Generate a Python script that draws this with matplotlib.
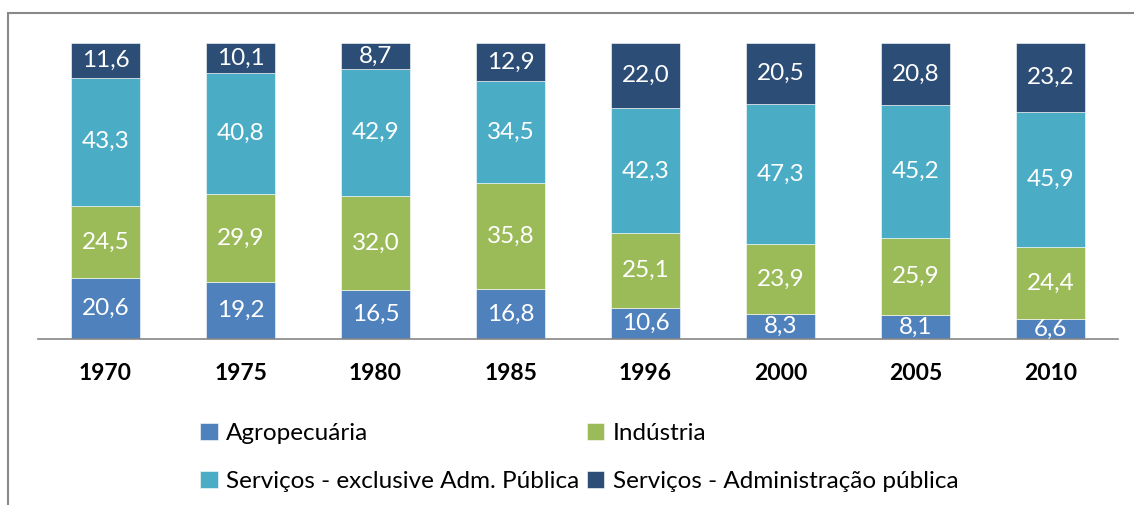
import matplotlib.pyplot as plt
from matplotlib.patches import Rectangle
import numpy as np

plt.rcParams['font.family'] = ['Lato', 'DejaVu Sans']

anos = ['1970', '1975', '1980', '1985', '1996', '2000', '2005', '2010']
agro = [20.6, 19.2, 16.5, 16.8, 10.6, 8.3, 8.1, 6.6]
industria = [24.5, 29.9, 32.0, 35.8, 25.1, 23.9, 25.9, 24.4]
serv_excl = [43.3, 40.8, 42.9, 34.5, 42.3, 47.3, 45.2, 45.9]
serv_adm = [11.6, 10.1, 8.7, 12.9, 22.0, 20.5, 20.8, 23.2]

series = [agro, industria, serv_excl, serv_adm]
nomes = ['Agropecuária', 'Indústria', 'Serviços - exclusive Adm. Pública',
         'Serviços - Administração pública']
cores = ['#4F81BD', '#9BBB59', '#4BACC6', '#2C4D75']

fig = plt.figure(figsize=(11.34, 5.05), dpi=100)
ax = fig.add_axes([38/1134, 1 - 339/505, (1118 - 38)/1134, (339 - 43)/505])

x = np.arange(len(anos))
base = np.zeros(len(anos))
barras = []
for vals, nome, cor in zip(series, nomes, cores):
    vals = np.array(vals)
    b = ax.bar(x, vals, 0.51, bottom=base, color=cor, label=nome,
               edgecolor='white', linewidth=0.4)
    barras.append(b)
    for xi, v, bo in zip(x, vals, base):
        ax.text(xi, bo + v / 2, f'{v:.1f}'.replace('.', ','), ha='center',
                va='center', color='white', fontsize=17.5)
    base = base + vals

# soma pode passar de 100 por arredondamento
ax.set_ylim(0, base.max())
ax.set_xlim(-0.5, len(anos) - 0.5)
ax.set_yticks([])
ax.set_xticks(x)
ax.set_xticklabels(anos, fontsize=16.5, fontweight='bold')
ax.tick_params(axis='x', length=0, pad=17)
for s in ['top', 'right', 'left']:
    ax.spines[s].set_visible(False)
ax.spines['bottom'].set_color('#868686')
ax.spines['bottom'].set_linewidth(1.2)

# legenda em 2 linhas
ordem = [0, 2, 1, 3]
fig.legend([barras[i] for i in ordem], [nomes[i] for i in ordem], ncol=2,
           loc='upper left', bbox_to_anchor=(200/1134, 1 - 423/505),
           frameon=False, fontsize=17.5, handlelength=0.72, handleheight=0.72,
           handletextpad=0.35, columnspacing=0.3, labelspacing=1.1,
           borderpad=0, borderaxespad=0)

# moldura
fig.patches.append(Rectangle((8/1134, -0.1), 1.2, 1 - 13/505 + 0.1,
                             transform=fig.transFigure, fill=False,
                             edgecolor='#898989', linewidth=1.5))

fig.savefig('out.png', dpi=100)
